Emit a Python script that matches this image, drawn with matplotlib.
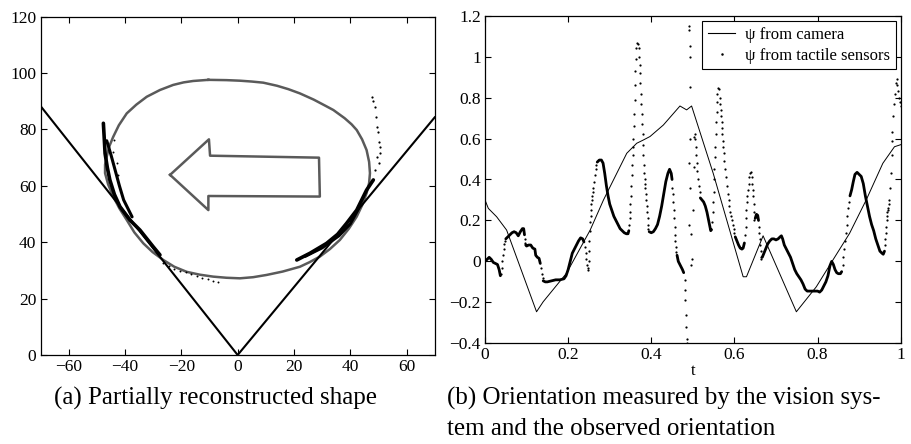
import numpy as np
import matplotlib
matplotlib.use("Agg")
import matplotlib.pyplot as plt
from matplotlib.lines import Line2D

plt.rcParams['font.family'] = ['Liberation Serif', 'DejaVu Serif']

# ---- panel (a): reconstructed shape ----
cone_x = [-70, 0, 70]
cone_y = [88.3, 0, 84.3]

shape_x = [-10.4, -4.0, 0.8, 5.0, 9.1, 14.0, 18.0, 22.1, 27.0, 31.0, 34.0, 38.0, 40.5,
           42.3, 44.2, 45.8, 46.7, 47.0, 46.7, 45.8, 44.3, 42.3, 39.5, 36.3, 32.8, 29.2,
           25.5, 22.1, 16.0, 10.3, 5.5, 0.8, -4.0, -8.7, -13.5, -18.1, -22.5, -26.4,
           -30.2, -33.5, -36.7, -39.4, -42.0, -44.2, -46.0, -47.1, -47.1, -46.5, -45.6,
           -44.2, -42.2, -39.4, -36.0, -32.3, -27.6, -22.9, -19.2, -15.8, -10.4]
shape_y = [97.6, 97.5, 97.3, 97.0, 96.6, 95.5, 94.3, 92.8, 90.6, 88.5, 86.9, 84.0, 81.8,
           79.8, 76.5, 72.7, 68.5, 64.5, 61.0, 57.4, 53.3, 49.1, 44.8, 40.8, 37.6, 34.9,
           32.9, 31.3, 29.6, 28.4, 27.6, 27.2, 27.4, 27.8, 28.5, 29.5, 31.3, 33.7,
           36.5, 39.6, 43.5, 47.9, 52.0, 56.2, 60.5, 64.5, 67.5, 70.4, 74.0,
           77.4, 81.5, 85.7, 88.8, 91.6, 94.0, 95.8, 96.7, 97.2, 97.6]

arrow_x = [-24.0, -10.2, -9.8, 28.9, 29.2, -10.4, -10.4, -24.0]
arrow_y = [63.9, 76.5, 70.7, 70.0, 56.2, 56.4, 51.4, 63.9]

contact_left_x = [-47.7, -47.4, -47.1, -46.3, -45.4, -43.8, -41.8, -38.3, -34.7, -30.0, -27.6]
contact_left_y = [82.2, 77.0, 71.5, 66.5, 62.1, 57.0, 52.6, 47.9, 44.3, 38.4, 35.5]
contact_left_inner_x = [-46.5, -45.0, -43.5, -42.0, -40.5, -37.5]
contact_left_inner_y = [76.0, 71.0, 65.5, 60.0, 55.0, 49.0]
contact_left_dots_x = [-43.9, -44.3, -43.0, -42.6, -26.4, -24.5, -22.5, -20.5, -18.5,
                       -16.5, -14.5, -12.5, -10.5, -8.8, -6.9]
contact_left_dots_y = [76.3, 72.1, 68.0, 64.0, 32.5, 31.4, 30.6, 29.9, 29.3,
                       28.6, 28.0, 27.3, 26.8, 26.4, 26.0]

contact_right_x = [21.0, 25.7, 31.6, 35.5, 38.7, 42.3, 45.8, 48.2]
contact_right_y = [33.7, 36.1, 39.6, 42.8, 46.7, 51.4, 58.5, 62.1]
contact_right_inner_x = [24.0, 30.0, 36.0, 40.0, 43.0]
contact_right_inner_y = [35.0, 38.0, 42.3, 46.5, 52.0]
contact_right_dots_x = [48.8, 49.5, 50.5, 50.3, 50.4, 50.2, 50.0, 49.6, 49.2, 48.8, 48.2, 47.6]
contact_right_dots_y = [65.6, 70.3, 73.9, 68.0, 71.5, 75.5, 79.0, 81.0, 84.5, 88.1, 90.0, 91.6]

# ---- panel (b): orientation ----
t_camera = [0.0, 0.008, 0.028, 0.052, 0.124, 0.14, 0.196, 0.253, 0.285, 0.341, 0.365,
            0.381, 0.397, 0.429, 0.469, 0.485, 0.497, 0.549, 0.621, 0.629, 0.669,
            0.749, 0.797, 0.837, 0.877, 0.917, 0.957, 0.985, 1.0]
psi_camera = [0.30, 0.259, 0.218, 0.153, -0.246, -0.197, -0.058, 0.153, 0.30, 0.528, 0.577,
              0.593, 0.61, 0.666, 0.759, 0.74, 0.759, 0.43, -0.075, -0.075, 0.125,
              -0.246, -0.124, 0.007, 0.137, 0.30, 0.479, 0.56, 0.57]

# slowly varying stretches of the tactile estimate (dots merge into a band)
t_tactile_band = [
    0.0, 0.005, 0.010, 0.015, 0.020, 0.025, 0.030, 0.034, 0.037, None,
    0.05, 0.055, 0.06, 0.065, 0.07, 0.075, 0.08, 0.085, 0.09, 0.093, 0.095, None,
    0.098, 0.10, 0.105, 0.11, 0.115, 0.12, 0.122, 0.126, 0.13, 0.133, None,
    0.14, 0.145, 0.15, 0.16, 0.17, 0.18, 0.19, 0.195, 0.20, 0.205, 0.21, 0.215, 0.22,
    0.225, 0.23, 0.235, 0.238, None,
    0.27, 0.275, 0.28, 0.284, 0.288, 0.292, 0.296, 0.30, 0.305, 0.31, 0.315, 0.32,
    0.325, 0.33, 0.335, 0.34, 0.344, 0.346, None,
    0.395, 0.40, 0.405, 0.41, 0.415, 0.42, 0.425, 0.43, 0.435, 0.44, 0.444, 0.448, 0.450, None,
    0.462, 0.465, 0.47, 0.475, 0.478, None,
    0.518, 0.522, 0.526, 0.530, 0.534, 0.538, 0.541, 0.543, 0.545, None,
    0.602, 0.606, 0.61, 0.614, 0.618, 0.621, 0.624, None,
    0.650, 0.653, 0.656, 0.658, None,
    0.667, 0.670, 0.675, 0.68, 0.685, 0.69, 0.695, 0.70, 0.705, 0.71, 0.713, 0.716, 0.72,
    0.725, 0.73, 0.735, 0.74, 0.745, 0.75, 0.755, 0.76, 0.765, 0.77, 0.775, 0.78, 0.79,
    0.80, 0.805, 0.81, 0.815, 0.82, 0.825, 0.83, 0.834, 0.838, 0.842, 0.846, 0.85, 0.855,
    0.858, None,
    0.878, 0.882, 0.886, 0.89, 0.895, 0.90, 0.905, 0.91, 0.915, 0.92, 0.925, 0.93, 0.935,
    0.94, 0.945, 0.95, 0.955, 0.958, 0.961]
psi_tactile_band = [
    0.0, 0.01, 0.02, 0.01, -0.005, -0.01, -0.015, -0.04, -0.07, None,
    0.11, 0.12, 0.13, 0.14, 0.145, 0.14, 0.125, 0.145, 0.16, 0.16, 0.13, None,
    0.08, 0.075, 0.08, 0.08, 0.065, 0.06, 0.03, 0.02, 0.015, -0.01, None,
    -0.095, -0.10, -0.10, -0.095, -0.09, -0.09, -0.085, -0.07, -0.04, 0.0, 0.04, 0.06, 0.08,
    0.10, 0.115, 0.11, 0.095, None,
    0.485, 0.495, 0.495, 0.48, 0.43, 0.37, 0.32, 0.28, 0.25, 0.22, 0.20, 0.18,
    0.16, 0.15, 0.14, 0.135, 0.135, 0.15, None,
    0.145, 0.14, 0.145, 0.16, 0.18, 0.22, 0.27, 0.33, 0.39, 0.43, 0.45, 0.43, 0.40, None,
    0.03, 0.0, -0.02, -0.04, -0.055, None,
    0.31, 0.30, 0.29, 0.27, 0.24, 0.20, 0.17, 0.15, 0.155, None,
    0.12, 0.10, 0.08, 0.065, 0.06, 0.065, 0.09, None,
    0.21, 0.23, 0.225, 0.20, None,
    0.02, 0.035, 0.06, 0.085, 0.10, 0.11, 0.11, 0.105, 0.11, 0.12, 0.125, 0.11, 0.08,
    0.06, 0.04, 0.02, -0.01, -0.04, -0.06, -0.075, -0.09, -0.11, -0.135, -0.145, -0.145, -0.145,
    -0.145, -0.15, -0.14, -0.12, -0.10, -0.07, -0.02, 0.0, -0.015, -0.04, -0.055, -0.06, -0.06,
    -0.05, None,
    0.32, 0.35, 0.39, 0.425, 0.435, 0.425, 0.415, 0.38, 0.32, 0.27, 0.22, 0.18, 0.15,
    0.11, 0.08, 0.05, 0.04, 0.035, 0.05]

# fast stretches, where single samples are visible
t_tactile_dots = [
    0.039, 0.041, 0.042, 0.043, 0.045, 0.046, 0.048,
    0.096, 0.097, 0.135, 0.137, 0.139,
    0.240, 0.242, 0.244, 0.246, 0.248,
    0.248, 0.249, 0.250, 0.251, 0.252, 0.253, 0.254, 0.255, 0.256, 0.257, 0.258, 0.259,
    0.260, 0.262, 0.264, 0.266, 0.268,
    0.347, 0.348, 0.349, 0.350, 0.351, 0.352, 0.353, 0.354, 0.355, 0.356, 0.357, 0.358,
    0.359, 0.360, 0.361, 0.362, 0.363, 0.364, 0.366, 0.368, 0.370, 0.371, 0.372, 0.373,
    0.374, 0.375, 0.376, 0.377, 0.378, 0.379, 0.380, 0.381, 0.382, 0.383, 0.384, 0.385,
    0.386, 0.387, 0.388, 0.389, 0.390, 0.391, 0.392, 0.393,
    0.451, 0.452, 0.453, 0.454, 0.455, 0.456, 0.457, 0.458, 0.459, 0.460,
    0.480, 0.481, 0.482, 0.483, 0.484, 0.485, 0.485,
    0.491, 0.491, 0.492, 0.492, 0.493, 0.494, 0.491, 0.494, 0.490, 0.496, 0.498, 0.495,
    0.502, 0.500,
    0.502, 0.504, 0.506, 0.507, 0.508, 0.510, 0.511, 0.512, 0.514, 0.516,
    0.547, 0.548, 0.549, 0.550, 0.551, 0.552, 0.553, 0.554, 0.555, 0.556, 0.557, 0.558,
    0.559, 0.561, 0.563, 0.565, 0.566, 0.567, 0.568, 0.569, 0.570, 0.571, 0.572, 0.573,
    0.574, 0.576, 0.578, 0.580, 0.582, 0.584, 0.586, 0.588, 0.590, 0.592, 0.594, 0.596,
    0.598, 0.600,
    0.626, 0.627, 0.628, 0.629, 0.630, 0.631, 0.632, 0.634, 0.636, 0.638, 0.640, 0.642,
    0.643, 0.644, 0.645, 0.646, 0.647, 0.648,
    0.659, 0.660, 0.661, 0.662, 0.663, 0.664, 0.665,
    0.860, 0.862, 0.864, 0.866, 0.868, 0.870, 0.872, 0.874, 0.876,
    0.962, 0.963, 0.964, 0.965, 0.966, 0.967, 0.968, 0.969, 0.970, 0.971, 0.972, 0.974,
    0.976, 0.978, 0.979, 0.980, 0.982, 0.984, 0.986, 0.988, 0.990, 0.992, 0.994, 0.996,
    0.998, 1.0]
psi_tactile_dots = [
    -0.06, -0.03, 0.0, 0.03, 0.06, 0.085, 0.10,
    0.11, 0.09, -0.03, -0.06, -0.08,
    0.07, 0.04, 0.01, -0.02, -0.04,
    -0.03, 0.0, 0.05, 0.10, 0.15, 0.19, 0.22, 0.25, 0.28, 0.30, 0.32, 0.34,
    0.36, 0.39, 0.42, 0.45, 0.47,
    0.18, 0.21, 0.24, 0.28, 0.32, 0.37, 0.42, 0.47, 0.52, 0.56, 0.60, 0.66,
    0.72, 0.79, 0.86, 0.93, 0.99, 1.04, 1.065, 1.06, 1.04, 1.00, 0.96, 0.92,
    0.87, 0.82, 0.77, 0.72, 0.67, 0.62, 0.57, 0.52, 0.47, 0.43, 0.40, 0.38,
    0.36, 0.33, 0.30, 0.27, 0.24, 0.21, 0.18, 0.16,
    0.36, 0.33, 0.29, 0.25, 0.21, 0.17, 0.13, 0.10, 0.07, 0.045,
    -0.09, -0.14, -0.19, -0.26, -0.32, -0.38, -0.40,
    1.15, 1.13, 1.05, 1.00, 0.85, 0.60, 0.48, 0.36, 0.18, 0.135, 0.01, -0.02,
    0.46, 0.25,
    0.61, 0.62, 0.60, 0.56, 0.52, 0.48, 0.44, 0.40, 0.37, 0.34,
    0.19, 0.24, 0.29, 0.34, 0.40, 0.45, 0.51, 0.56, 0.62, 0.68, 0.73, 0.78,
    0.82, 0.845, 0.84, 0.80, 0.77, 0.74, 0.71, 0.68, 0.65, 0.62, 0.59, 0.56,
    0.53, 0.49, 0.45, 0.41, 0.37, 0.33, 0.30, 0.27, 0.24, 0.22, 0.20, 0.18,
    0.16, 0.14,
    0.13, 0.17, 0.21, 0.25, 0.29, 0.32, 0.35, 0.38, 0.41, 0.43, 0.435, 0.41,
    0.38, 0.35, 0.32, 0.28, 0.24, 0.20,
    0.17, 0.14, 0.11, 0.08, 0.05, 0.02, 0.01,
    -0.02, 0.02, 0.06, 0.10, 0.14, 0.18, 0.22, 0.26, 0.29,
    0.08, 0.11, 0.14, 0.17, 0.20, 0.22, 0.24, 0.25, 0.26, 0.28, 0.30, 0.36,
    0.43, 0.52, 0.59, 0.63, 0.71, 0.77, 0.82, 0.87, 0.89, 0.86, 0.83, 0.80,
    0.78, 0.76]

captions = ["(a) Partially reconstructed shape",
            "(b) Orientation measured by the vision sys-",
            "tem and the observed orientation"]

W, H = 912, 444
fig = plt.figure(figsize=(W / 100, H / 100), dpi=100)

ax1 = fig.add_axes([40.6 / W, 1 - 355 / H, 394.1 / W, 338.3 / H])
ax2 = fig.add_axes([485 / W, 1 - 343.3 / H, 415.7 / W, 327.6 / H])

gray = '#5a5a5a'
ax1.plot(shape_x, shape_y, color=gray, lw=1.8)
ax1.plot(arrow_x, arrow_y, color=gray, lw=1.8)
ax1.plot(cone_x, cone_y, color='black', lw=1.5)
ax1.plot(contact_left_x, contact_left_y, color='black', lw=2.6, solid_capstyle='round')
ax1.plot(contact_left_inner_x, contact_left_inner_y, color='black', lw=2.2, solid_capstyle='round')
ax1.plot(contact_right_x, contact_right_y, color='black', lw=2.6, solid_capstyle='round')
ax1.plot(contact_right_inner_x, contact_right_inner_y, color='black', lw=2.2, solid_capstyle='round')
ax1.plot(contact_left_dots_x, contact_left_dots_y, 'o', color='black', ms=1.4, mew=0)
ax1.plot(contact_right_dots_x, contact_right_dots_y, 'o', color='black', ms=1.6, mew=0)
ax1.set_xlim(-70, 70)
ax1.set_ylim(0, 120)
ax1.set_xticks(np.arange(-60, 61, 20))
ax1.set_yticks(np.arange(0, 121, 20))

t_band = np.array(t_tactile_band, dtype=float)
psi_band = np.array(psi_tactile_band, dtype=float)
ax2.plot(t_camera, psi_camera, color='black', lw=0.7)
ax2.plot(t_band, psi_band, color='black', lw=2.0, solid_capstyle='round')
ax2.plot(t_tactile_dots, psi_tactile_dots, 'o', color='black', ms=1.6, mew=0)
ax2.set_xlim(0, 1)
ax2.set_ylim(-0.4, 1.2)
ax2.set_xticks([0, 0.2, 0.4, 0.6, 0.8, 1])
ax2.set_xticklabels(['0', '0.2', '0.4', '0.6', '0.8', '1'])
yt = [-0.4, -0.2, 0, 0.2, 0.4, 0.6, 0.8, 1, 1.2]
ax2.set_yticks(yt)
ax2.set_yticklabels(['\u22120.4', '\u22120.2', '0', '0.2', '0.4', '0.6', '0.8', '1', '1.2'])
ax2.set_xlabel('t', fontsize=12, labelpad=0)

for ax in (ax1, ax2):
    ax.tick_params(direction='in', top=True, right=True, length=4, width=0.8,
                   labelsize=12.5, pad=3)
    for s in ax.spines.values():
        s.set_linewidth(0.9)

handles = [Line2D([], [], color='black', lw=0.8),
           Line2D([], [], marker='o', ms=1.8, mew=0, color='black', ls='none')]
leg = ax2.legend(handles, ['\u03c8 from camera', '\u03c8 from tactile sensors'],
                 loc='upper right', fontsize=12, fancybox=False, framealpha=1,
                 edgecolor='black', borderaxespad=0.3, handlelength=1.6,
                 labelspacing=0.3, borderpad=0.35, handletextpad=0.6)
leg.get_frame().set_linewidth(0.8)

fig.text(54 / W, 1 - 405 / H, captions[0], fontsize=18, va='baseline', ha='left')
fig.text(447 / W, 1 - 405 / H, captions[1], fontsize=18, va='baseline', ha='left')
fig.text(447 / W, 1 - 435 / H, captions[2], fontsize=18, va='baseline', ha='left')

fig.savefig('out.png', dpi=100)
